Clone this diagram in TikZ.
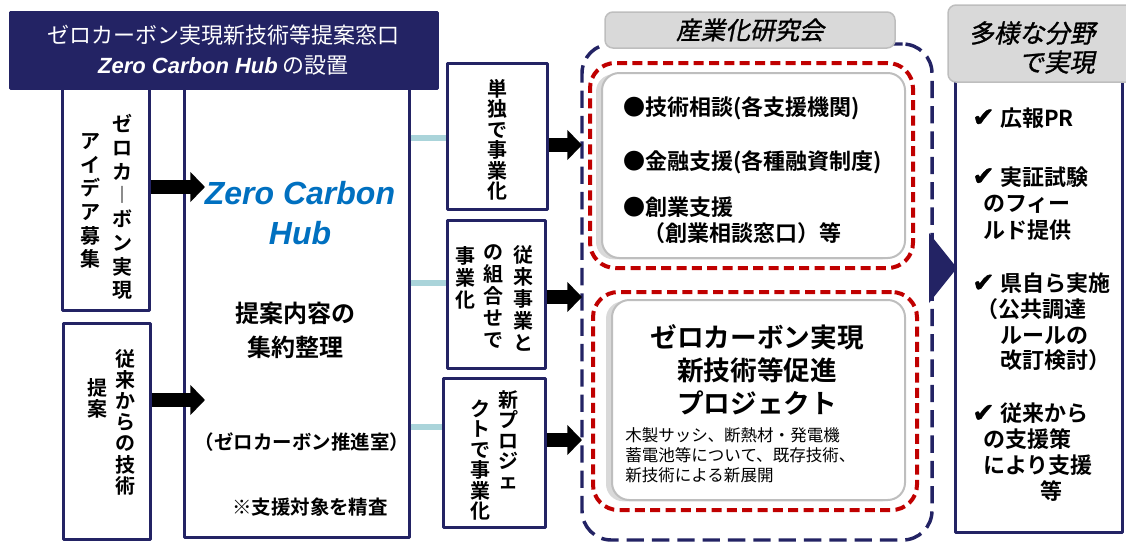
\documentclass[tikz,border=0pt]{standalone}
\usepackage{fontspec}
\setmainfont{Noto Sans CJK JP}[BoldFont={Noto Sans CJK JP Bold}]
\newfontfamily\slantjp{Noto Sans CJK JP}[FakeSlant=0.2, FakeBold=1.2]
\newfontfamily\hubfont{Liberation Sans}
\newfontfamily\checkfont{DejaVu Sans}[FakeBold=1.5]
\usetikzlibrary{arrows.meta}
\newdimen\pxu \pxu=0.75pt
\definecolor{navy}{RGB}{35,35,100}
\definecolor{hubblue}{RGB}{0,112,192}
\definecolor{linkblue}{RGB}{170,212,218}
\definecolor{dashred}{RGB}{192,0,0}
\definecolor{labelgray}{RGB}{217,217,217}
\definecolor{rimgray}{RGB}{190,190,190}
\newcommand{\vbar}{︱}
\newcommand{\ck}{\makebox[28\pxu][l]{\checkfont\mdseries\fontsize{20}{20}\selectfont ✔}}
\tikzset{
  navybox/.style={draw=navy, line width=3*\pxu, fill=white, inner sep=0pt},
  vtext/.style={align=center, inner sep=0pt, font=\bfseries\fontsize{15}{#1}\selectfont},
  blk/.style={line width=10.5pt, -{Triangle[length=11pt,width=22pt]}},
  link/.style={linkblue, line width=4.5pt},
  graylabel/.style={draw=rimgray, fill=labelgray, line width=1.5*\pxu, rounded corners=6pt, inner sep=0pt},
  reddash/.style={draw=dashred, line width=3pt, dash pattern=on 7.5pt off 4pt, rounded corners=19pt, inner sep=0pt},
  innerbox/.style={draw=rimgray, line width=2*\pxu, fill=white, rounded corners=13pt, inner sep=0pt,
    preaction={fill=labelgray, transform canvas={xshift=-4.5pt, yshift=-1pt}}},
  item/.style={anchor=west, align=left, inner sep=0pt, font=\bfseries\fontsize{16.5}{#1}\selectfont}
}
\begin{document}
\begin{tikzpicture}[x=0.75pt,y=-0.75pt,line join=round]
\useasboundingbox (0,0) rectangle (1126,543);
%%
\node (kenkyu) at (757,292) [draw=navy, line width=2.6pt, dash pattern=on 13pt off 6pt, rounded corners=22pt, minimum width=350*\pxu, minimum height=496*\pxu, inner sep=0pt] {};
\node (kenlabel) at (750,30) [graylabel, minimum width=290*\pxu, minimum height=36*\pxu, font=\slantjp\fontsize{18.5}{20}\selectfont] {産業化研究会};
\node (red1) at (751.5,165.5) [reddash, minimum width=323*\pxu, minimum height=205*\pxu] {};
\node (in1) at (753.5,165.5) [innerbox, minimum width=303*\pxu, minimum height=185*\pxu] {};
\node (red2) at (755,401) [reddash, minimum width=324*\pxu, minimum height=218*\pxu] {};
\node (in2) at (758.5,400) [innerbox, minimum width=293*\pxu, minimum height=200*\pxu] {};
\node (sien1) at (623,108) [item=20pt] {●技術相談(各支援機関)};
\node (sien2) at (623,162) [item=20pt] {●金融支援(各種融資制度)};
\node (sien3) at (623,220) [item=19.5pt] {●創業支援\\\hspace*{20\pxu}（創業相談窓口）等};
\node (proj) at (757,370) [align=center, inner sep=0pt, font=\bfseries\fontsize{20}{24.8}\selectfont] {ゼロカーボン実現\\新技術等促進\\プロジェクト};
\node (projnote) at (625,455) [anchor=west, align=left, inner sep=0pt, font=\fontsize{12.4}{15}\selectfont] {木製サッシ、断熱材・発電機\\蓄電池等について、既存技術、\\新技術による新展開};
%
\node (right) at (1038.5,301) [navybox, minimum width=167*\pxu, minimum height=462*\pxu] {};
\node (rlabel) at (1041.5,43.5) [graylabel, minimum width=187*\pxu, minimum height=77*\pxu] {};
\node (rl1) at (1032,33) [inner sep=0pt, font=\slantjp\fontsize{19}{21}\selectfont] {多様な分野};
\node (rl2) at (1095,62) [anchor=east, inner sep=0pt, font=\slantjp\fontsize{19}{21}\selectfont] {で実現};
\node (r1) at (972,118) [item=20pt] {\ck 広報PR};
\node (r2) at (972,203.5) [item=20pt] {\ck 実証試験\\\hspace*{11\pxu}のフィー\\\hspace*{11\pxu}ルド提供};
\node (r3) at (972,322) [item=19.3pt] {\ck 県自ら実施\\\hspace*{4\pxu}（公共調達\\\hspace*{28\pxu}ルールの\\\hspace*{28\pxu}改訂検討）};
\node (r4) at (972,452.5) [item=19.5pt] {\ck 従来から\\\hspace*{11\pxu}の支援策\\\hspace*{11\pxu}により支援\\\hspace*{68\pxu}等};
\fill [navy] (929,233) -- (957,268) -- (929,303) -- cycle;
%
\node (sA) at (497,136) [navybox, minimum width=100*\pxu, minimum height=146*\pxu] {};
\node (sB) at (496,294) [navybox, minimum width=98*\pxu, minimum height=148*\pxu] {};
\node (sC) at (494,452.5) [navybox, minimum width=102*\pxu, minimum height=149*\pxu] {};
\node (sA1) at (497,140) [vtext=15.4pt] {単\\独\\で\\事\\業\\化};
\node (sB1) at (523,298) [vtext=16.5pt] {従\\来\\事\\業\\と};
\node (sB2) at (493,297) [vtext=16.5pt] {の\\組\\合\\せ\\で};
\node (sB3) at (465,278) [vtext=16.5pt] {事\\業\\化};
\node (sC1) at (508,440) [vtext=15.3pt] {新\\プ\\ロ\\ジ\\ェ};
\node (sC2) at (480,460) [vtext=15.3pt] {ク\\ト\\で\\事\\業\\化};
%
\node (hub) at (296.5,310.5) [navybox, minimum width=225*\pxu, minimum height=453*\pxu] {};
\node (b1) at (105.5,197) [navybox, minimum width=87*\pxu, minimum height=226*\pxu] {};
\node (b2) at (106.5,431) [navybox, minimum width=87*\pxu, minimum height=216*\pxu] {};
\node (b1r) at (122,207) [vtext=17.8pt] {ゼ\\ロ\\カ\\\vbar\\ボ\\ン\\実\\現};
\node (b1l) at (90,201) [vtext=17.8pt] {ア\\イ\\デ\\ア\\募\\集};
\node (b2r) at (125,422) [vtext=15.9pt] {従\\来\\か\\ら\\の\\技\\術};
\node (b2l) at (97,398) [vtext=15.9pt] {提\\案};
\node (zch) at (300,213) [align=center, inner sep=0pt, text=hubblue, font=\hubfont\bfseries\itshape\fontsize{24}{30}\selectfont] {Zero Carbon\\Hub};
\node (seiri) at (295,330) [align=center, inner sep=0pt, font=\bfseries\fontsize{18}{25.5}\selectfont] {提案内容の\\集約整理};
\node (suishin) at (302,442) [inner sep=0pt, font=\bfseries\fontsize{14.6}{17}\selectfont] {（ゼロカーボン推進室）};
\node (seisa) at (310,507) [inner sep=0pt, font=\bfseries\fontsize{14.6}{17}\selectfont] {※支援対象を精査};
%
\node (hdr) at (223.5,50) [navybox, fill=navy, text=white, align=center, minimum width=427*\pxu, minimum height=76*\pxu, font=\fontsize{16.5}{22.5}\selectfont] {ゼロカーボン実現新技術等提案窓口\\{\hubfont\bfseries\itshape Zero Carbon Hub} の設置};
%
\coordinate (y1) at (0,187);
\coordinate (y2) at (0,400);
\coordinate (yA) at (0,145);
\coordinate (yB) at (0,297);
\coordinate (yC) at (0,440);
\coordinate (lA) at (0,138);
\coordinate (lB) at (0,283);
\coordinate (lC) at (0,427);
\coordinate (hubin) at (205,0);
\coordinate (kenin) at (582,0);
\draw [blk] (b1.east |- y1) -- (hubin |- y1);
\draw [blk] (b2.east |- y2) -- (hubin |- y2);
\draw [blk] (sA.east |- yA) -- (kenin |- yA);
\draw [blk] (sB.east |- yB) -- (kenin |- yB);
\draw [blk] (sC.east |- yC) -- (kenin |- yC);
\draw [link] (hub.east |- lA) -- (sA.west |- lA);
\draw [link] (hub.east |- lB) -- (sB.west |- lB);
\draw [link] (hub.east |- lC) -- (sC.west |- lC);
%
\end{tikzpicture}
\end{document}
